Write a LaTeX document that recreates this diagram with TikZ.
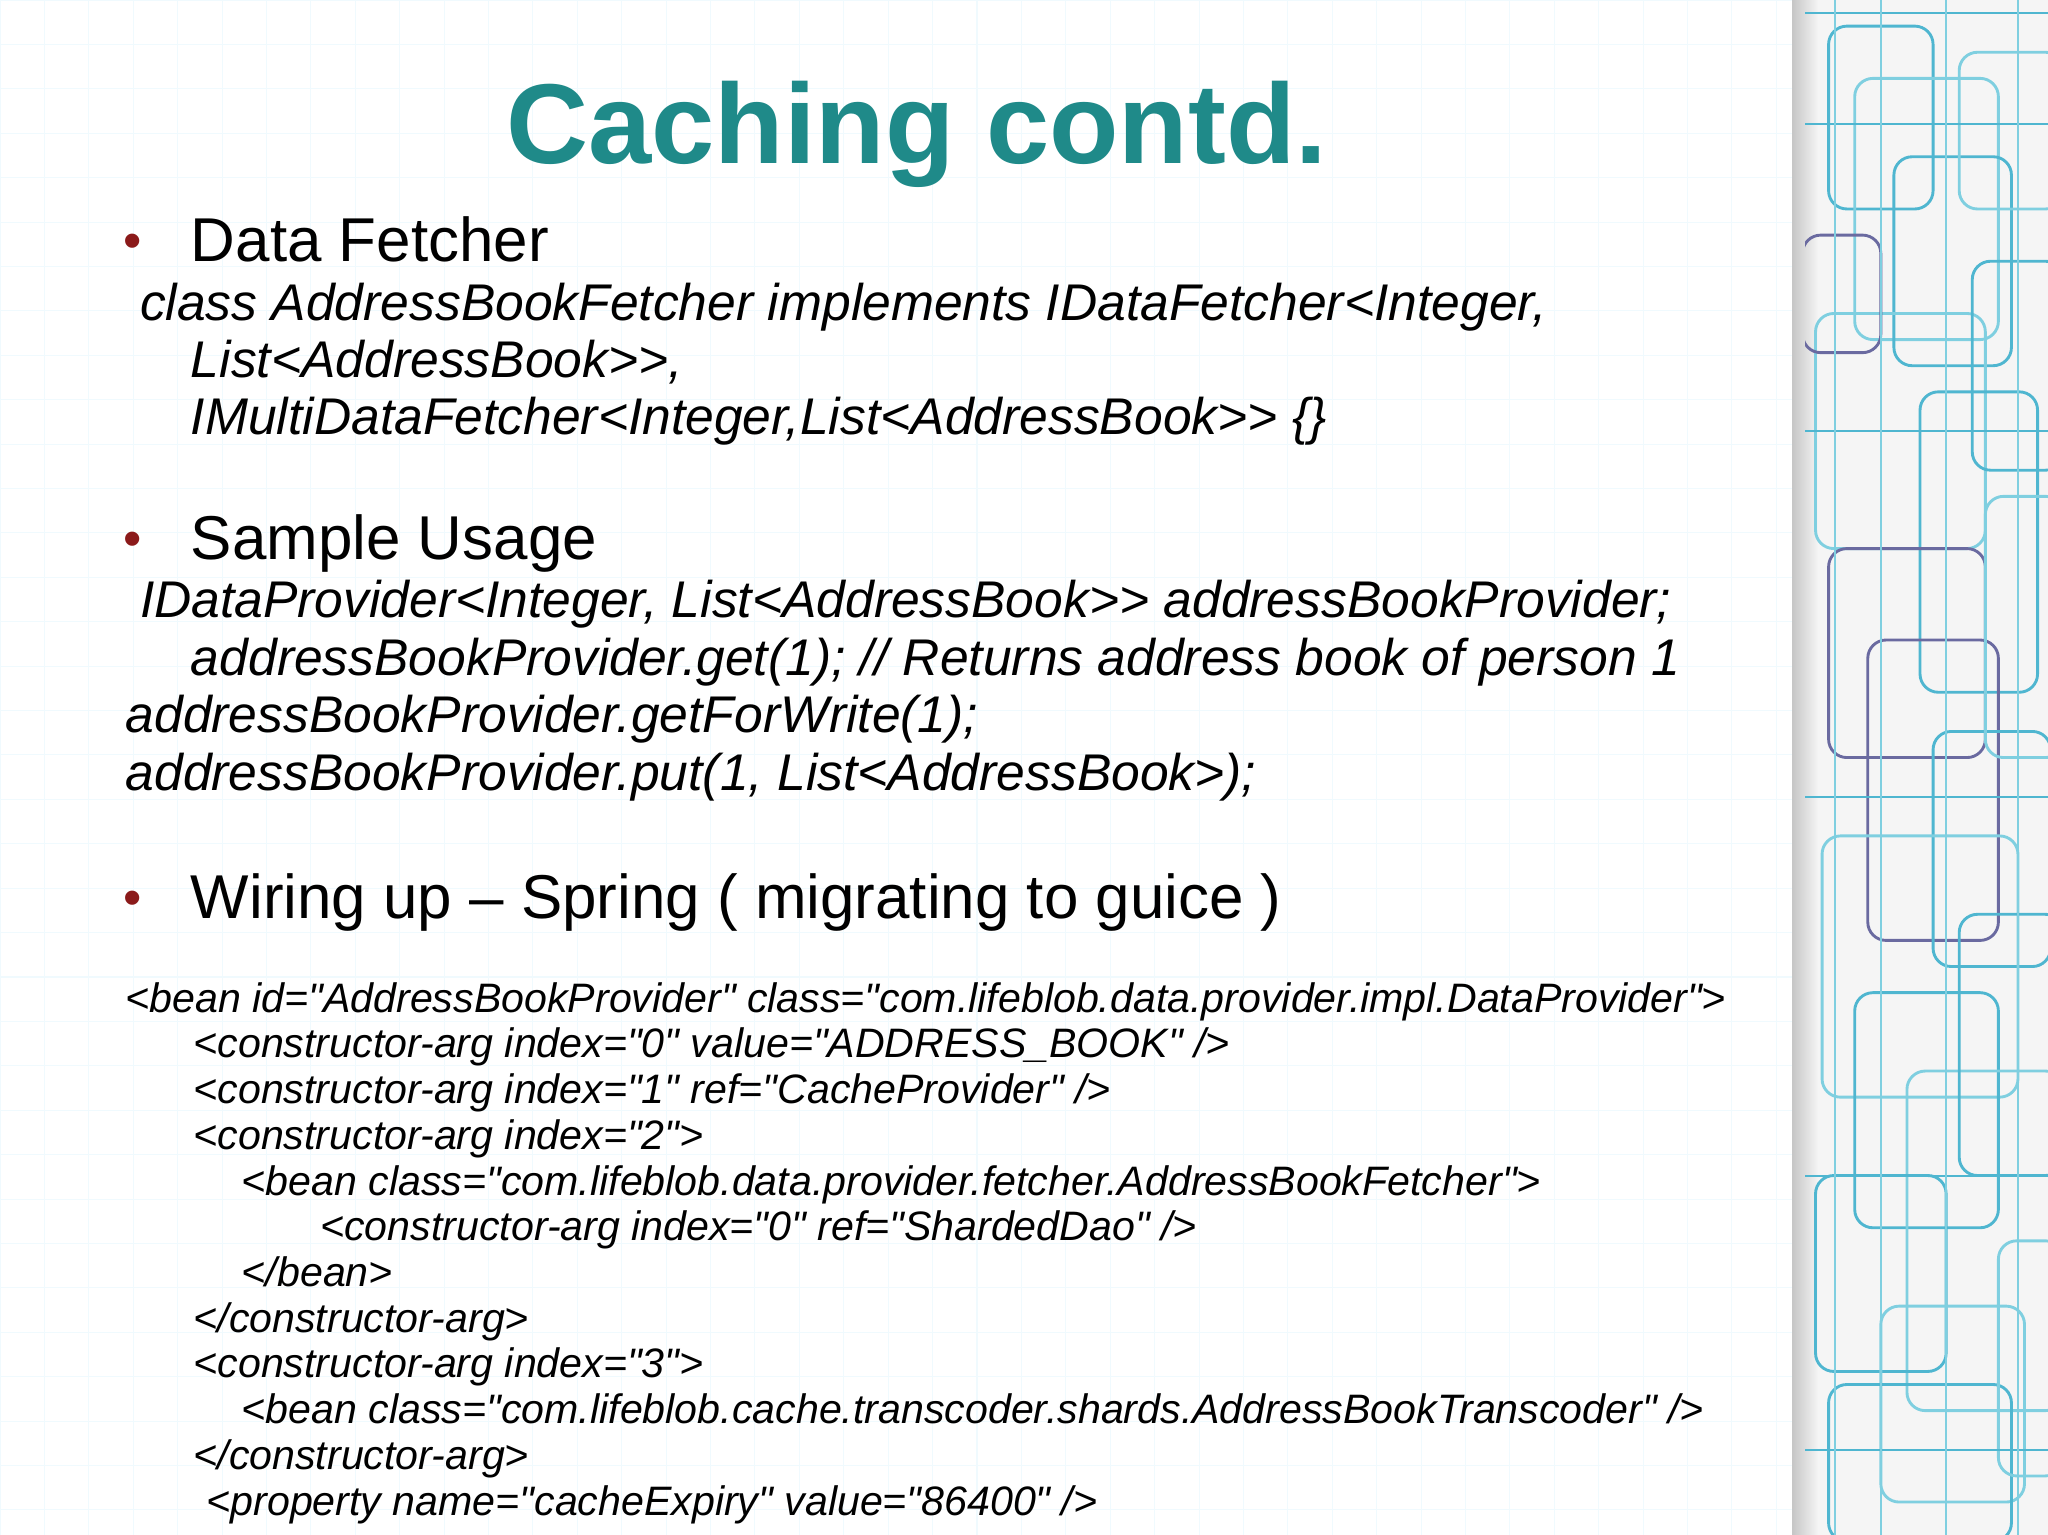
\documentclass[tikz,border=0pt]{standalone}
\usepackage{fontspec}
\defaultfontfeatures{}
\setmainfont{Liberation Sans}[Ligatures=TeXOff]
\begin{document}
\begin{tikzpicture}[x=1pt,y=1pt,
  txt/.style={anchor=base west,inner sep=0pt},
  head/.style={txt,font=\fontsize{47.4}{50}\selectfont},
  ital/.style={txt,font=\fontsize{39.5}{42}\selectfont\itshape},
  xml/.style={txt,font=\fontsize{31.5}{32}\selectfont\itshape},
  bul/.style={txt,font=\fontsize{40}{44}\selectfont,text=bul},
  deco/.style={rounded corners=14pt,line width=2.2pt}]
\definecolor{teal}{HTML}{1F8A89}
\definecolor{bul}{HTML}{8B1A1A}
\definecolor{c1}{HTML}{4FB6D0}
\definecolor{c2}{HTML}{7FCFE0}
\definecolor{c3}{HTML}{6A6AA0}
\useasboundingbox (0,0) rectangle (1568,-1175);
\fill[white] (0,0) rectangle (1568,-1175);
% faint background grid
\foreach \i in {0,...,40}{\draw[cyan!6,line width=0.8pt] (\i*34,0) -- (\i*34,-1175);}
\foreach \i in {0,...,35}{\draw[cyan!6,line width=0.8pt] (0,-\i*34) -- (1380,-\i*34);}
% right decorative strip
\fill[gray!8] (1380,0) rectangle (1568,-1175);
\shade[left color=gray!45,right color=gray!8] (1372,0) rectangle (1392,-1175);
\begin{scope}
\clip (1382,0) rectangle (1568,-1175);
\foreach \x/\y/\w/\h/\c in {1400/-20/80/140/c1,1420/-60/110/200/c2,1450/-120/90/160/c1,1390/-240/130/180/c2,
 1470/-300/90/230/c1,1400/-420/120/160/c3,1430/-490/100/230/c3,1480/-560/90/180/c1,1395/-640/150/200/c2,
 1420/-760/110/180/c1,1460/-820/120/260/c2,1390/-900/100/150/c1,1440/-1000/110/150/c2,1400/-1060/140/120/c1,
 1500/-40/80/120/c2,1510/-200/70/160/c1,1520/-380/60/200/c2,1500/-700/80/200/c1,1530/-950/50/180/c2,1380/-180/60/90/c3}{
  \draw[deco,\c] (\x,\y) rectangle ++(\w,-\h);}
\foreach \y in {-10,-95,-330,-610,-900,-1110}{\draw[c1,line width=1.5pt] (1382,\y) -- (1568,\y);}
\foreach \x in {1405,1440,1490,1545}{\draw[c2,line width=1.5pt] (\x,0) -- (\x,-1175);}
\end{scope}
% title
\node[txt,anchor=base,font=\fontsize{87}{90}\selectfont\bfseries,text=teal] (title) at (702,-125) {Caching contd.};
% bullets
\node[bul] (b1) at (94,-198) {•};
\node[bul] (b2) at (94,-426) {•};
\node[bul] (b3) at (94,-701) {•};
\node[head] (h1) at (146,-200) {Data Fetcher};
\node[ital] (i1) at (107,-245) {class AddressBookFetcher implements IDataFetcher<Integer,};
\node[ital] (i2) at (146,-289) {List<AddressBook>>,};
\node[ital] (i3) at (146,-333) {IMultiDataFetcher<Integer,List<AddressBook>> \{\}};
\node[head] (h2) at (146,-428) {Sample Usage};
\node[ital] (s1) at (107,-473) {IDataProvider<Integer, List<AddressBook>> addressBookProvider;};
\node[ital] (s2) at (146,-517) {addressBookProvider.get(1); // Returns address book of person 1};
\node[ital] (s3) at (96,-561) {addressBookProvider.getForWrite(1);};
\node[ital] (s4) at (96,-605) {addressBookProvider.put(1, List<AddressBook>);};
\node[head] (h3) at (146,-703) {Wiring up – Spring ( migrating to guice )};
\node[xml] (x1) at (96,-775) {<bean id="AddressBookProvider" class="com.lifeblob.data.provider.impl.DataProvider">};
\node[xml] (x2) at (148,-810) {<constructor-arg index="0" value="ADDRESS\_BOOK" />};
\node[xml] (x3) at (148,-845) {<constructor-arg index="1" ref="CacheProvider" />};
\node[xml] (x4) at (148,-880) {<constructor-arg index="2">};
\node[xml] (x5) at (185,-915) {<bean class="com.lifeblob.data.provider.fetcher.AddressBookFetcher">};
\node[xml] (x6) at (245,-950) {<constructor-arg index="0" ref="ShardedDao" />};
\node[xml] (x7) at (185,-985) {</bean>};
\node[xml] (x8) at (148,-1020) {</constructor-arg>};
\node[xml] (x9) at (148,-1055) {<constructor-arg index="3">};
\node[xml] (x10) at (185,-1090) {<bean class="com.lifeblob.cache.transcoder.shards.AddressBookTranscoder" />};
\node[xml] (x11) at (148,-1125) {</constructor-arg>};
\node[xml] (x12) at (158,-1160) {<property name="cacheExpiry" value="86400" />};
\end{tikzpicture}
\end{document}
